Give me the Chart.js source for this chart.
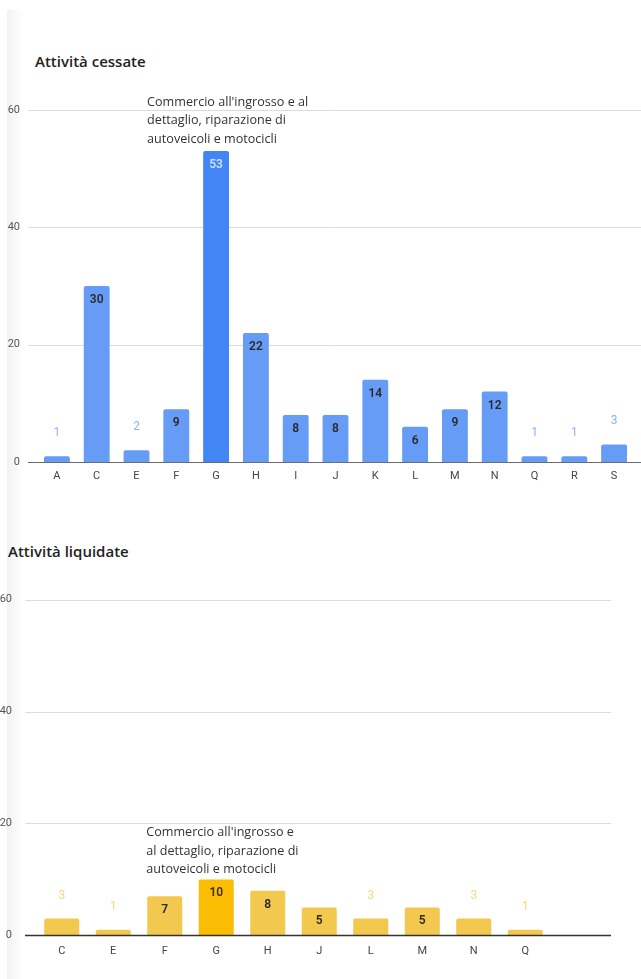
<!DOCTYPE html>
<html>
<head>
<meta charset="utf-8">
<script src="https://cdn.jsdelivr.net/npm/chart.js@4.4.1/dist/chart.umd.min.js"></script>
<style>
  body { margin: 0; background: #fff; width: 641px; height: 979px; overflow: hidden; position: relative; }
  .strip { position: absolute; left: 7px; top: 10px; width: 16px; height: 969px; background: linear-gradient(to right, #f2f2f2, #fff); }
  .title { position: absolute; font-family: "Open Sans", sans-serif; font-size: 15px; font-weight: 600; color: #222; }
  .box { position: absolute; }
</style>
</head>
<body>
<div class="strip"></div>
<div class="title" style="left:35px; top:51px;">Attività cessate</div>
<div class="box" style="left:0; top:80px; width:641px; height:410px;"><canvas id="cessateChart"></canvas></div>
<div class="title" style="left:8px; top:541px;">Attività liquidate</div>
<div class="box" style="left:0; top:569px; width:641px; height:397px;"><canvas id="liquidateChart"></canvas></div>
<script>
    const cessateCats = ["A", "C", "E", "F", "G", "H", "I", "J", "K", "L", "M", "N", "Q", "R", "S"];
    const cessateValues = [1, 30, 2, 9, 53, 22, 8, 8, 14, 6, 9, 12, 1, 1, 3];
    const liquidateCats = ["C", "E", "F", "G", "H", "J", "L", "M", "N", "Q"];
    const liquidateValues = [3, 1, 7, 10, 8, 5, 3, 5, 3, 1];
    const yTicks = [0, 20, 40, 60];
    const noteCessate = ["Commercio all'ingrosso e al", "dettaglio, riparazione di", "autoveicoli e motocicli"];
    const noteLiquidate = ["Commercio all'ingrosso e", "al dettaglio, riparazione di", "autoveicoli e motocicli"];

    // grid lines drawn across a wider span than the chart area
    const gridPlugin = {
        id: "gridExt",
        beforeDatasetsDraw(chart, args, opts) {
            const ctx = chart.ctx;
            const y = chart.scales.y;
            ctx.save();
            ctx.strokeStyle = opts.color;
            ctx.lineWidth = 1;
            yTicks.forEach(t => {
                if (t === 0) return;
                const py = Math.round(y.getPixelForValue(t)) + 0.5;
                ctx.beginPath();
                ctx.moveTo(opts.x0, py);
                ctx.lineTo(opts.x1, py);
                ctx.stroke();
            });
            ctx.restore();
        },
        afterDatasetsDraw(chart, args, opts) {
            const ctx = chart.ctx;
            const y = chart.scales.y;
            const py = Math.round(y.getPixelForValue(0)) + 0.5;
            ctx.save();
            ctx.strokeStyle = opts.baseColor;
            ctx.lineWidth = opts.baseWidth;
            ctx.beginPath();
            ctx.moveTo(opts.x0, py);
            ctx.lineTo(opts.x1, py);
            ctx.stroke();
            ctx.restore();
        }
    };

    // value labels + annotation near the G bar
    const labelPlugin = {
        id: "barLabels",
        afterDatasetsDraw(chart, args, opts) {
            const ctx = chart.ctx;
            const meta = chart.getDatasetMeta(0);
            const vals = chart.data.datasets[0].data;
            const cats = chart.data.labels;
            ctx.save();
            ctx.textAlign = "center";
            ctx.textBaseline = "middle";
            meta.data.forEach((bar, i) => {
                const v = vals[i];
                if (v >= 5) {
                    ctx.font = "600 12px Roboto, sans-serif";
                    ctx.fillStyle = (cats[i] === "G") ? opts.gInside : "#2a2a2a";
                    ctx.fillText(String(v), bar.x, bar.y + 14);
                } else {
                    ctx.font = "400 12px Roboto, sans-serif";
                    ctx.fillStyle = opts.outside;
                    ctx.fillText(String(v), bar.x, bar.y - 23);
                }
            });
            const g = meta.data[cats.indexOf("G")];
            ctx.textAlign = "left";
            ctx.font = "12.6px 'Open Sans', sans-serif";
            ctx.fillStyle = "#333";
            const n = opts.note.length;
            opts.note.forEach((line, k) => {
                ctx.fillText(line, g.x + opts.noteDx, g.y - opts.noteDy - (n - 1 - k) * 18.5);
            });
            ctx.restore();
        }
    };

    function makeChart(id, cats, values, cfg) {
        const ctx = document.getElementById(id).getContext("2d");
        return new Chart(ctx, {
            type: "bar",
            data: {
                labels: cats,
                datasets: [
                    {
                        data: values,
                        backgroundColor: cats.map(c => c === "G" ? cfg.gColor : cfg.color),
                        borderRadius: 2,
                        borderSkipped: "bottom",
                        barPercentage: cfg.barPct,
                        categoryPercentage: 1,
                    },
                ],
            },
            options: {
                responsive: true,
                maintainAspectRatio: false,
                animation: false,
                layout: { padding: { top: cfg.top, right: cfg.right, left: 0, bottom: 0 } },
                plugins: {
                    legend: { display: false },
                    tooltip: { enabled: false },
                    gridExt: cfg.grid,
                    barLabels: cfg.labels,
                },
                scales: {
                    x: {
                        grid: { display: false, drawTicks: false },
                        border: { display: false },
                        ticks: { color: "#444", font: { family: "Roboto", size: 11 }, padding: cfg.xPad },
                        afterFit: s => { s.height = 28; },
                    },
                    y: {
                        min: 0,
                        max: 60,
                        grid: { display: false, drawTicks: false },
                        border: { display: false },
                        ticks: { stepSize: 20, color: "#555", font: { family: "Roboto", size: 11 }, padding: cfg.yPad },
                        afterFit: s => { s.width = cfg.yWidth; },
                    },
                },
            },
            plugins: [gridPlugin, labelPlugin],
        });
    }

    const cessateChart = makeChart("cessateChart", cessateCats, cessateValues, {
        color: "#679cf6",
        gColor: "#4285f4",
        barPct: 0.65,
        top: 30,
        right: 7,
        yWidth: 37,
        yPad: 17,
        xPad: 8,
        grid: { x0: 28, x1: 641, color: "#dcdcdc", baseColor: "#6b6b6b", baseWidth: 1 },
        labels: { outside: "#8ab4f8", gInside: "#cfe0fd", note: noteCessate, noteDx: -69, noteDy: 12 },
    });

    const liquidateChart = makeChart("liquidateChart", liquidateCats, liquidateValues, {
        color: "#f3c84e",
        gColor: "#fbbc04",
        barPct: 0.68,
        top: 28,
        right: 90,
        yWidth: 36,
        yPad: 24,
        xPad: 9,
        grid: { x0: 25, x1: 611, color: "#dcdcdc", baseColor: "#333", baseWidth: 1.5 },
        labels: { outside: "#f6d87e", gInside: "#3a3020", note: noteLiquidate, noteDx: -70, noteDy: 10 },
    });
</script>
</body>
</html>
